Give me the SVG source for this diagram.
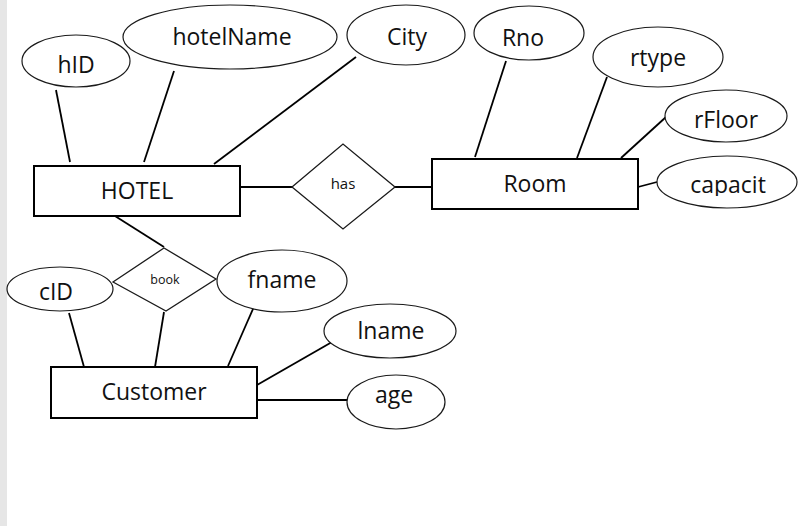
<svg xmlns="http://www.w3.org/2000/svg" width="800" height="526" viewBox="0 0 800 526">
<style>
.ent{fill:#fff;stroke:#000;stroke-width:2}
.att{fill:#fff;stroke:#1a1a1a;stroke-width:1.2}
.rel{fill:#fff;stroke:#1a1a1a;stroke-width:1.3}
.t{font-family:"Open Sans","Liberation Sans",sans-serif;font-size:23px;fill:#111;text-anchor:middle}
.s{font-family:"Open Sans","Liberation Sans",sans-serif;fill:#111;text-anchor:middle}
#edges line{stroke:#000;stroke-width:1.8}
</style>
<defs>
<clipPath id="capclip"><rect x="650" y="150" width="150" height="46"/></clipPath>
</defs>
<rect x="0" y="0" width="800" height="526" fill="#fff"/>
<rect x="0" y="0" width="7" height="526" fill="#e6e6e6"/>
<g id="edges">
<line x1="56" y1="90" x2="70" y2="162"/>
<line x1="174" y1="71" x2="144" y2="162"/>
<line x1="356" y1="57" x2="214" y2="164"/>
<line x1="240" y1="187" x2="292" y2="187"/>
<line x1="395" y1="187" x2="432" y2="187"/>
<line x1="506" y1="61" x2="475" y2="157"/>
<line x1="607" y1="77" x2="577" y2="158"/>
<line x1="666" y1="117" x2="621" y2="158"/>
<line x1="638" y1="187" x2="657" y2="182"/>
<line x1="115" y1="216" x2="164" y2="247"/>
<line x1="69" y1="313" x2="84" y2="367"/>
<line x1="164" y1="312" x2="155" y2="367"/>
<line x1="256" y1="302" x2="228" y2="366"/>
<line x1="332" y1="342" x2="257" y2="385"/>
<line x1="258" y1="400" x2="347" y2="400"/>
</g>
<g id="hotel"><rect class="ent" x="34" y="166" width="206" height="50"/><text class="t" x="137" y="199">HOTEL</text></g>
<g id="room"><rect class="ent" x="432" y="159" width="206" height="50"/><text class="t" x="535" y="192">Room</text></g>
<g id="customer"><rect class="ent" x="51" y="367" width="206" height="51"/><text class="t" x="154" y="400">Customer</text></g>
<g id="has"><polygon class="rel" points="292,187 343,144 395,187 343,229"/><text class="s" x="343" y="189" font-size="15">has</text></g>
<g id="book"><polygon class="rel" points="113,282 164,248 216,279 166,311"/><text class="s" x="165" y="284" font-size="12.5">book</text></g>
<g id="hID"><ellipse class="att" cx="76" cy="61" rx="54" ry="26"/><text class="t" x="76" y="73">hID</text></g>
<g id="hotelName"><ellipse class="att" cx="230" cy="37" rx="107" ry="32"/><text class="t" x="232" y="45">hotelName</text></g>
<g id="City"><ellipse class="att" cx="406" cy="35" rx="59" ry="30"/><text class="t" x="407" y="45">City</text></g>
<g id="Rno"><ellipse class="att" cx="529" cy="33" rx="55" ry="27"/><text class="t" x="523" y="46">Rno</text></g>
<g id="rtype"><ellipse class="att" cx="658" cy="57" rx="65" ry="30"/><text class="t" x="658" y="66">rtype</text></g>
<g id="rFloor"><ellipse class="att" cx="726" cy="116" rx="61" ry="26"/><text class="t" x="726" y="128">rFloor</text></g>
<g id="capacit"><ellipse class="att" cx="727" cy="182" rx="70" ry="26"/><text class="t" x="728" y="193" clip-path="url(#capclip)">capacit</text></g>
<g id="cID"><ellipse class="att" cx="60" cy="289" rx="53" ry="22"/><text class="t" x="56" y="300">cID</text></g>
<g id="fname"><ellipse class="att" cx="282" cy="281" rx="65" ry="31"/><text class="t" x="282" y="288">fname</text></g>
<g id="lname"><ellipse class="att" cx="390" cy="331" rx="66" ry="27"/><text class="t" x="391" y="339">lname</text></g>
<g id="age"><ellipse class="att" cx="396" cy="402" rx="49" ry="27"/><text class="t" x="394" y="403">age</text></g>
</svg>
